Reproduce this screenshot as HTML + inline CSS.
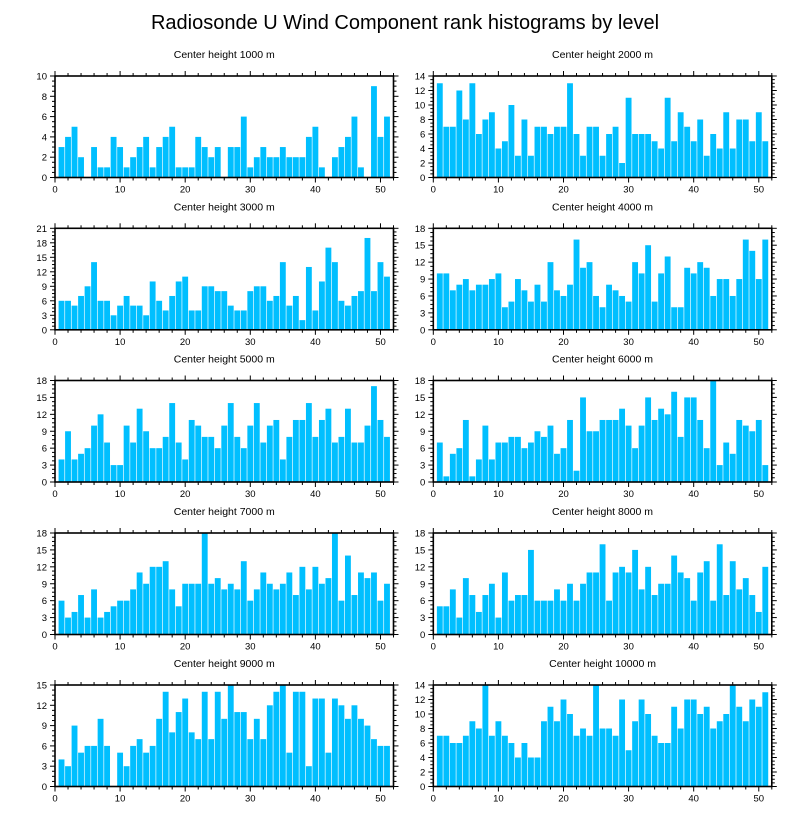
<!DOCTYPE html>
<html><head><meta charset="utf-8">
<style>
html,body{margin:0;padding:0;background:#fff;}
svg{display:block;font-family:"Liberation Sans",sans-serif;}
</style></head>
<body>
<svg id="chart" width="810" height="824" viewBox="0 0 810 824">
<text x="405" y="29" text-anchor="middle" font-size="20" fill="#000">Radiosonde U Wind Component rank histograms by level</text>
</svg>
<script>
const panelTitles = ["Center height 1000 m","Center height 2000 m","Center height 3000 m","Center height 4000 m","Center height 5000 m","Center height 6000 m","Center height 7000 m","Center height 8000 m","Center height 9000 m","Center height 10000 m"];
const yMax = [10,14,21,18,18,18,18,18,15,14];
const yStep = [2,2,3,3,3,3,3,3,3,2];
const xTicks = [0,10,20,30,40,50];
const counts1000 = [3,4,5,2,0,3,1,1,4,3,1,2,3,4,1,3,4,5,1,1,1,4,3,2,3,0,3,3,6,1,2,3,2,2,3,2,2,2,4,5,1,0,2,3,4,6,1,0,9,4,6];
const counts2000 = [13,7,7,12,8,13,6,8,9,4,5,10,3,8,3,7,7,6,7,7,13,6,3,7,7,3,6,7,2,11,6,6,6,5,4,11,5,9,7,5,8,3,6,4,9,4,8,8,5,9,5];
const counts3000 = [6,6,5,7,9,14,6,6,3,5,7,5,5,3,10,6,4,7,10,11,4,4,9,9,8,8,5,4,4,8,9,9,6,7,14,5,7,2,13,4,10,17,14,6,5,7,8,19,8,14,11];
const counts4000 = [10,10,7,8,9,7,8,8,9,10,4,5,9,7,5,8,5,12,7,6,8,16,11,12,6,4,8,7,6,5,12,10,15,5,10,13,4,4,11,10,12,11,6,9,9,6,9,16,14,9,16];
const counts5000 = [4,9,4,5,6,10,12,7,3,3,10,7,13,9,6,6,8,14,7,4,11,10,8,8,6,10,14,8,6,10,14,7,10,11,4,8,11,11,14,8,11,13,7,8,13,7,7,10,17,11,8];
const counts6000 = [7,1,5,6,11,1,4,10,4,7,7,8,8,6,7,9,8,10,5,6,11,2,15,9,9,11,11,11,13,10,6,10,15,11,13,12,16,8,15,15,11,6,18,3,7,5,11,10,9,11,3];
const counts7000 = [6,3,4,7,3,8,3,4,5,6,6,8,11,9,12,12,13,8,5,9,9,9,18,9,10,8,9,8,13,6,8,11,9,8,9,11,7,12,8,12,9,10,18,6,14,7,11,10,11,6,9];
const counts8000 = [5,5,8,3,10,7,4,7,9,3,11,6,7,7,15,6,6,6,8,6,9,6,9,11,11,16,6,11,12,11,15,8,12,7,9,9,14,11,10,6,11,13,6,16,7,13,8,10,7,4,12];
const counts9000 = [4,3,9,5,6,6,10,6,0,5,3,6,7,5,6,10,14,8,11,13,8,7,14,7,14,10,15,11,11,7,10,7,12,14,15,5,14,14,3,13,13,5,13,12,10,12,10,9,7,6,6];
const counts10000 = [7,7,6,6,7,9,8,14,7,9,7,6,4,6,4,4,9,11,9,12,10,7,8,7,14,8,8,7,12,5,9,12,10,7,6,6,11,8,12,12,10,11,8,9,10,14,11,9,12,11,13];
const allCounts = [counts1000,counts2000,counts3000,counts4000,counts5000,counts6000,counts7000,counts8000,counts9000,counts10000];

const NS = "http://www.w3.org/2000/svg";
const svg = document.getElementById("chart");
function mk(tag, attrs, parent){
  const e = document.createElementNS(NS, tag);
  for (const k in attrs) e.setAttribute(k, attrs[k]);
  parent.appendChild(e);
  return e;
}
const W = 338.5, H = 101.5, XMAX = 52;
const lefts = [55, 433.3];
const tops = [76, 228.3, 380.5, 533, 685];

allCounts.forEach((vals, p) => {
  const x0 = lefts[p % 2], y0 = tops[Math.floor(p / 2)];
  const ym = yMax[p];
  const xs = v => x0 + v / XMAX * W;
  const ys = v => y0 + H - v / ym * H;
  const g = mk("g", {}, svg);
  
  
  const t = mk("text", {x: x0 + W / 2, y: y0 - 18, "text-anchor": "middle", "font-size": "10.5"}, g);
  t.textContent = panelTitles[p];
  
  
  vals.forEach((v, i) => {
    const c = i + 1;
    const r = mk("rect", {x: xs(c - 0.45), y: ys(v), width: xs(c + 0.45) - xs(c - 0.45), height: Math.max(0, ys(0) - ys(v)), fill: "#00BFFF"}, g);
    
    
  });
  const frame = mk("rect", {x: x0, y: y0, width: W, height: H, fill: "none", stroke: "#000", "stroke-width": "1.6"}, g);
  
  
  // x ticks
  for (let v = 0; v <= XMAX; v += 2) {
    const major = v % 10 === 0;
    const L = major ? 5 : 3;
    const x = xs(v);
    mk("line", {x1: x, x2: x, y1: y0 + H, y2: y0 + H + L, stroke: "#000", "stroke-width": "1"}, g);
    mk("line", {x1: x, x2: x, y1: y0, y2: y0 - L, stroke: "#000", "stroke-width": "1"}, g);
  }
  xTicks.forEach(v => {
    const tl = mk("text", {x: xs(v), y: y0 + H + 15, "text-anchor": "middle", "font-size": "9.5"}, g);
    tl.textContent = v;
    
    
  });
  // y ticks
  const st = yStep[p], minor = st / 4;
  for (let k = 0; k * minor <= ym + 1e-9; k++) {
    const v = k * minor;
    const major = k % 4 === 0;
    const L = major ? 5 : 3;
    const y = ys(v);
    mk("line", {x1: x0, x2: x0 - L, y1: y, y2: y, stroke: "#000", "stroke-width": "1"}, g);
    mk("line", {x1: x0 + W, x2: x0 + W + L, y1: y, y2: y, stroke: "#000", "stroke-width": "1"}, g);
  }
  for (let v = 0; v <= ym; v += st) {
    const tl = mk("text", {x: x0 - 8, y: ys(v) + 3.5, "text-anchor": "end", "font-size": "9.5"}, g);
    tl.textContent = v;
    
    
  }
});
</script>
</body></html>
